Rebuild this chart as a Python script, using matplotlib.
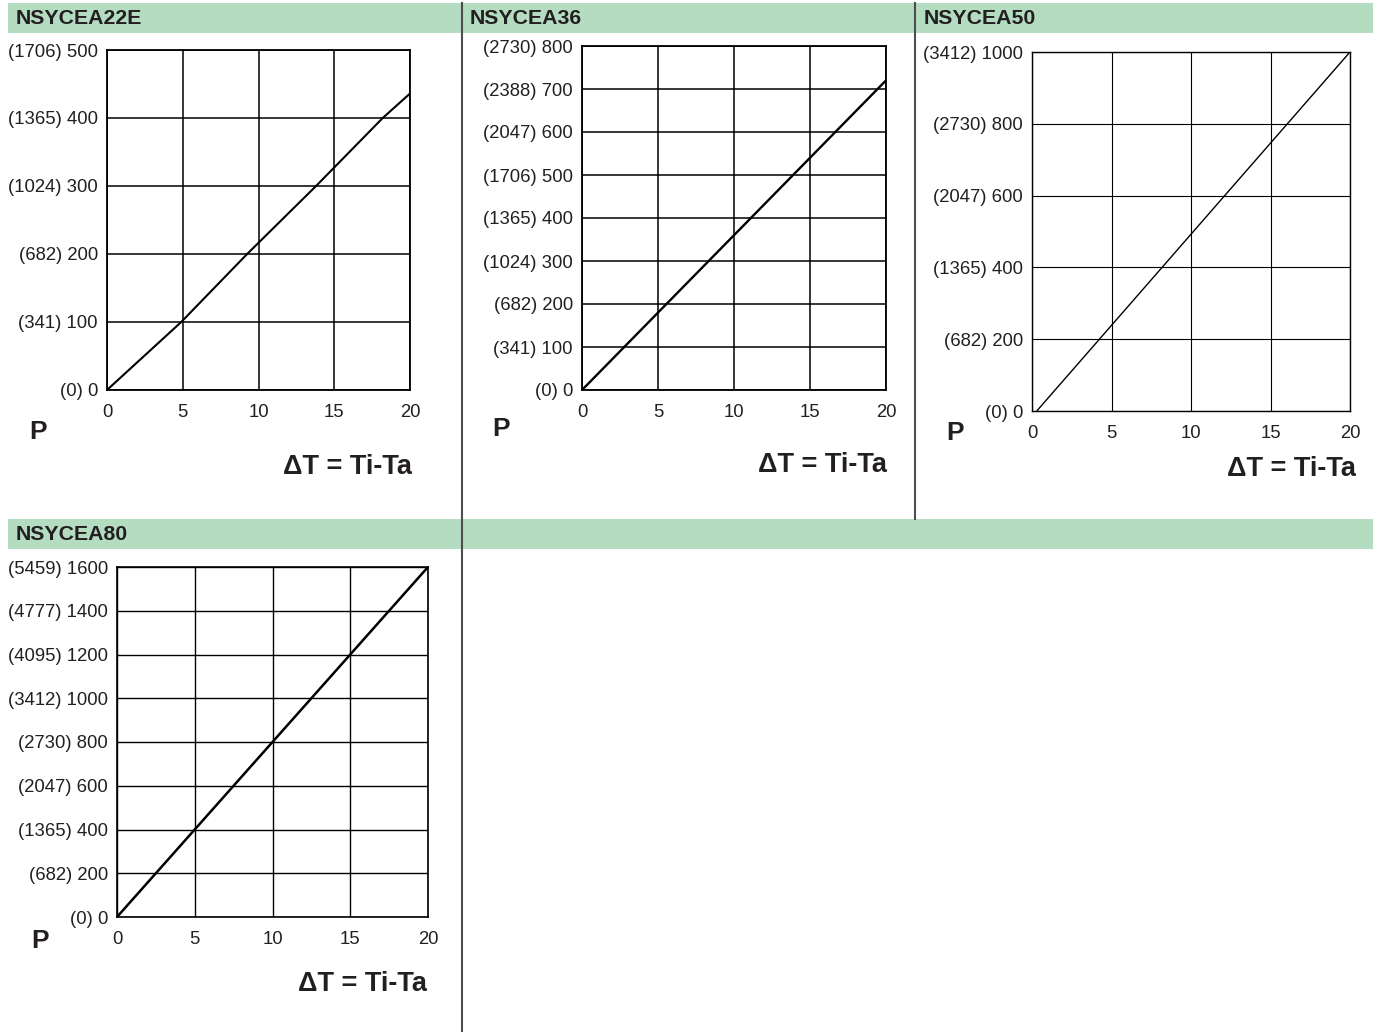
import matplotlib.pyplot as plt
from matplotlib.patches import Rectangle
from matplotlib.lines import Line2D

plt.rcParams['font.family'] = ['Liberation Sans', 'DejaVu Sans']

W, H = 1383, 1032
HEADER_COLOR = '#b3dcc1'
TEXT_COLOR = '#231f20'

# data
titles = ['NSYCEA22E', 'NSYCEA36', 'NSYCEA50', 'NSYCEA80']
x_ticks = [0, 5, 10, 15, 20]

watts_22e = [0, 100, 200, 300, 400, 500]
kcal_22e = [0, 341, 682, 1024, 1365, 1706]
line_x_22e = [0, 4.9, 9.25, 13.8, 18.2, 20]
line_y_22e = [0, 100, 200, 300, 400, 436]

watts_36 = [0, 100, 200, 300, 400, 500, 600, 700, 800]
kcal_36 = [0, 341, 682, 1024, 1365, 1706, 2047, 2388, 2730]
line_x_36 = [0, 20]
line_y_36 = [0, 720]

watts_50 = [0, 200, 400, 600, 800, 1000]
kcal_50 = [0, 682, 1365, 2047, 2730, 3412]
line_x_50 = [0.3, 20]
line_y_50 = [0, 1000]

watts_80 = [0, 200, 400, 600, 800, 1000, 1200, 1400, 1600]
kcal_80 = [0, 682, 1365, 2047, 2730, 3412, 4095, 4777, 5459]
line_x_80 = [0, 20]
line_y_80 = [0, 1600]


def rect(left, top, right, bottom):
    return [left / W, 1 - bottom / H, (right - left) / W, (bottom - top) / H]


def fx(px):
    return px / W


def fy(py):
    return 1 - py / H


fig = plt.figure(figsize=(W / 100, H / 100), dpi=100)

# header bars
for top, bottom in [(3, 33), (519, 549)]:
    fig.patches.append(Rectangle((fx(8), fy(bottom)), fx(1373) - fx(8), fy(top) - fy(bottom),
                                 transform=fig.transFigure, facecolor=HEADER_COLOR,
                                 edgecolor='none', zorder=0))

# column dividers
fig.lines.append(Line2D([fx(462), fx(462)], [fy(3), fy(1032)], transform=fig.transFigure,
                        color='#4d4d4d', lw=1.5))
fig.lines.append(Line2D([fx(915), fx(915)], [fy(3), fy(519)], transform=fig.transFigure,
                        color='#4d4d4d', lw=1.5))

panels = [
    # title, box, watts, kcal, line x, line y, line width, grid width, header pos, P pos, dT pos
    (titles[0], (107, 50, 410, 390), watts_22e, kcal_22e, line_x_22e, line_y_22e, 1.5, 1.1,
     (16, 18), (38, 432), (412, 467)),
    (titles[1], (582, 46, 886, 390), watts_36, kcal_36, line_x_36, line_y_36, 1.7, 1.1,
     (470, 18), (501, 429), (887, 465)),
    (titles[2], (1032, 52, 1350, 411), watts_50, kcal_50, line_x_50, line_y_50, 1.0, 0.8,
     (924, 18), (955, 433), (1356, 469)),
    (titles[3], (117, 567, 428, 917), watts_80, kcal_80, line_x_80, line_y_80, 1.8, 1.0,
     (16, 535), (40, 941), (427, 984)),
]

for title, box, watts, kcal, lx, ly, lw, gw, hpos, ppos, dtpos in panels:
    ax = fig.add_axes(rect(*box))
    ax.plot(lx, ly, color='black', lw=lw, solid_capstyle='butt', zorder=3)
    ax.set_xlim(0, 20)
    ax.set_ylim(0, watts[-1])
    ax.set_xticks(x_ticks)
    ax.set_xticklabels([str(t) for t in x_ticks])
    ax.set_yticks(watts)
    ax.set_yticklabels([f'({k}) {w}' for k, w in zip(kcal, watts)])
    ax.tick_params(length=0, labelsize=13.3, colors=TEXT_COLOR, pad=6.5)
    ax.tick_params(axis='x', pad=10)
    ax.grid(True, color='black', lw=gw)
    for s in ax.spines.values():
        s.set_linewidth(gw + 0.2)
    ax.set_axisbelow(True)

    fig.text(fx(hpos[0]), fy(hpos[1]), title, fontsize=15.3, fontweight='bold',
             color=TEXT_COLOR, ha='left', va='center')
    fig.text(fx(ppos[0]), fy(ppos[1]), 'P', fontsize=19, fontweight='bold',
             color=TEXT_COLOR, ha='center', va='center')
    fig.text(fx(dtpos[0]), fy(dtpos[1]), 'ΔT = Ti-Ta', fontsize=19.5, fontweight='bold',
             color=TEXT_COLOR, ha='right', va='center')

fig.savefig('out.png', dpi=100)
